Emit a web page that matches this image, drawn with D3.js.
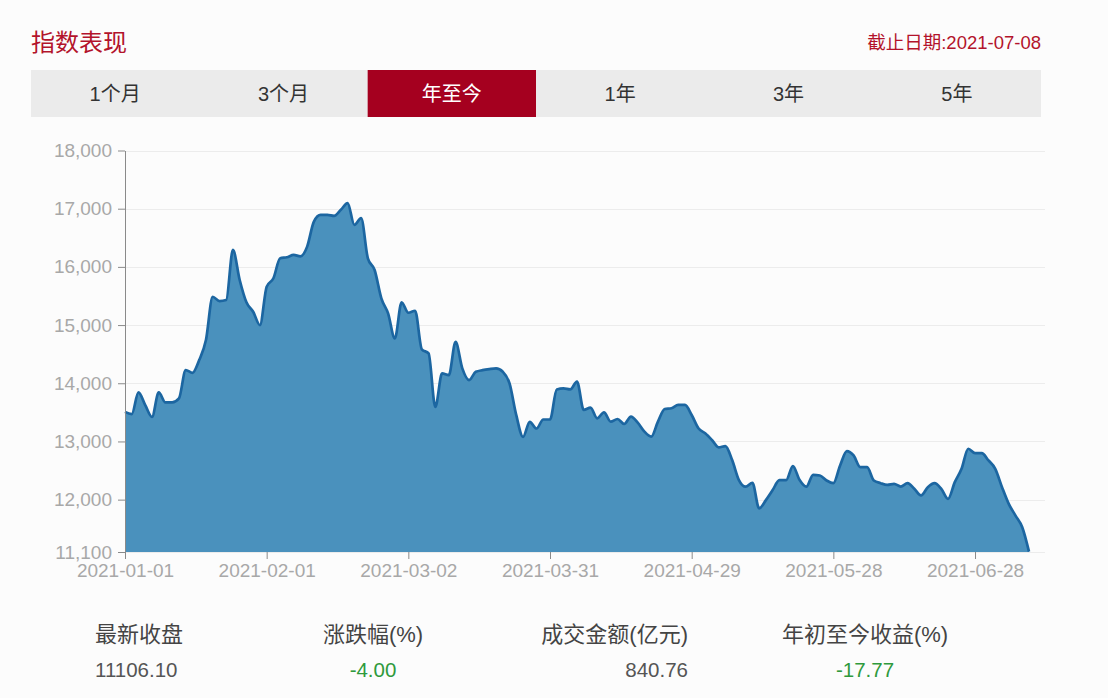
<!DOCTYPE html>
<html>
<head>
<meta charset="utf-8">
<script src="https://cdn.jsdelivr.net/npm/d3@7"></script>
<style>
    body { margin: 0; background: #fcfcfc; }
    svg { font-family: "Liberation Sans", "Noto Sans CJK SC", sans-serif; display: block; }
</style>
</head>
<body>
<div class="drawingArea"></div>
<script>
//Weekdays from 2021-01-01 to 2021-07-08 (category axis)
var dates = [
    "2021-01-01","2021-01-04","2021-01-05","2021-01-06","2021-01-07","2021-01-08","2021-01-11","2021-01-12","2021-01-13","2021-01-14",
    "2021-01-15","2021-01-18","2021-01-19","2021-01-20","2021-01-21","2021-01-22","2021-01-25","2021-01-26","2021-01-27","2021-01-28",
    "2021-01-29","2021-02-01","2021-02-02","2021-02-03","2021-02-04","2021-02-05","2021-02-08","2021-02-09","2021-02-10","2021-02-11",
    "2021-02-12","2021-02-15","2021-02-16","2021-02-17","2021-02-18","2021-02-19","2021-02-22","2021-02-23","2021-02-24","2021-02-25",
    "2021-02-26","2021-03-01","2021-03-02","2021-03-03","2021-03-04","2021-03-05","2021-03-08","2021-03-09","2021-03-10","2021-03-11",
    "2021-03-12","2021-03-15","2021-03-16","2021-03-17","2021-03-18","2021-03-19","2021-03-22","2021-03-23","2021-03-24","2021-03-25",
    "2021-03-26","2021-03-29","2021-03-30","2021-03-31","2021-04-01","2021-04-02","2021-04-05","2021-04-06","2021-04-07","2021-04-08",
    "2021-04-09","2021-04-12","2021-04-13","2021-04-14","2021-04-15","2021-04-16","2021-04-19","2021-04-20","2021-04-21","2021-04-22",
    "2021-04-23","2021-04-26","2021-04-27","2021-04-28","2021-04-29","2021-04-30","2021-05-03","2021-05-04","2021-05-05","2021-05-06",
    "2021-05-07","2021-05-10","2021-05-11","2021-05-12","2021-05-13","2021-05-14","2021-05-17","2021-05-18","2021-05-19","2021-05-20",
    "2021-05-21","2021-05-24","2021-05-25","2021-05-26","2021-05-27","2021-05-28","2021-05-31","2021-06-01","2021-06-02","2021-06-03",
    "2021-06-04","2021-06-07","2021-06-08","2021-06-09","2021-06-10","2021-06-11","2021-06-14","2021-06-15","2021-06-16","2021-06-17",
    "2021-06-18","2021-06-21","2021-06-22","2021-06-23","2021-06-24","2021-06-25","2021-06-28","2021-06-29","2021-06-30","2021-07-01",
    "2021-07-02","2021-07-05","2021-07-06","2021-07-07","2021-07-08"
];

//Index close
var closes = [
    13508, 13469, 13842, 13623, 13422, 13842, 13670, 13670, 13739, 14226,
    14179, 14398, 14742, 15487, 15413, 15430, 16291, 15775, 15391, 15229,
    15000, 15659, 15804, 16148, 16165, 16205, 16182, 16348, 16778, 16893,
    16893, 16876, 16980, 17095, 16721, 16837, 16148, 15947, 15460, 15202,
    14771, 15391, 15212, 15246, 14582, 14513, 13594, 14169, 14140, 14713,
    14255, 14054, 14197, 14225, 14243, 14255, 14197, 13997, 13451, 13078,
    13336, 13222, 13377, 13377, 13894, 13911, 13894, 14029, 13541, 13581,
    13398, 13501, 13340, 13386, 13300, 13426, 13323, 13168, 13082, 13340,
    13558, 13570, 13627, 13627, 13455, 13226, 13139, 13025, 12898, 12921,
    12680, 12336, 12222, 12290, 11849, 11992, 12164, 12336, 12336, 12577,
    12336, 12222, 12426, 12415, 12329, 12283, 12587, 12834, 12759, 12558,
    12558, 12329, 12283, 12254, 12271, 12225, 12283, 12185, 12071, 12214,
    12283, 12185, 12013, 12300, 12530, 12874, 12799, 12799, 12673, 12530,
    12214, 11927, 11726, 11526, 11106.10
];

var xTickLabels = ["2021-01-01", "2021-02-01", "2021-03-02", "2021-03-31", "2021-04-29", "2021-05-28", "2021-06-28"];
var yTickValues = [11100, 12000, 13000, 14000, 15000, 16000, 17000, 18000];

var tabLabels = ["1个月", "3个月", "年至今", "1年", "3年", "5年"];
var activeTab = "年至今";

var statLabels = ["最新收盘", "涨跌幅(%)", "成交金额(亿元)", "年初至今收益(%)"];
var statValues = ["11106.10", "-4.00", "840.76", "-17.77"];

var width = 1108;
var height = 698;

//Plot area
var plotLeft = 125, plotRight = 1029, plotTop = 150.5, plotBottom = 552;

var red = "#b3132b";
var tabRed = "#a5001f";
var fillBlue = "#4a91bd";
var lineBlue = "#1c66a1";
var axisGray = "#a8a8a8";

var svg = d3.select(".drawingArea").append("svg:svg")
    .attr("width", width)
    .attr("height", height);

svg.append("rect")
    .attr("width", width)
    .attr("height", height)
    .attr("fill", "#fcfcfc");

//Header
svg.append("text")
    .attr("x", 31)
    .attr("y", 51)
    .attr("font-size", 24)
    .attr("fill", red)
    .text("指数表现");

svg.append("text")
    .attr("x", 1041)
    .attr("y", 49)
    .attr("text-anchor", "end")
    .attr("font-size", 18.5)
    .attr("fill", red)
    .text("截止日期:2021-07-08");

//Tabs
var tabScale = d3.scaleBand().domain(tabLabels).range([31, 1041]);

svg.append("rect")
    .attr("x", 31)
    .attr("y", 70)
    .attr("width", 1010)
    .attr("height", 47)
    .attr("fill", "#ebebeb");

svg.selectAll("rect.tab")
    .data(tabLabels.filter(function (d) { return d === activeTab; }))
    .enter()
    .append("rect")
    .attr("class", "tab")
    .attr("x", function (d) { return tabScale(d); })
    .attr("y", 70)
    .attr("width", tabScale.bandwidth())
    .attr("height", 47)
    .attr("fill", tabRed);

svg.selectAll("text.tab")
    .data(tabLabels)
    .enter()
    .append("text")
    .attr("class", "tab")
    .attr("x", function (d) { return tabScale(d) + tabScale.bandwidth() / 2; })
    .attr("y", 101)
    .attr("text-anchor", "middle")
    .attr("font-size", 20)
    .attr("fill", function (d) { return d === activeTab ? "#ffffff" : "#333333"; })
    .text(function (d) { return d; });

//Scales
var x = d3.scalePoint().domain(dates).range([plotLeft, plotRight]);
var y = d3.scaleLinear().domain([11100, 18000]).range([plotBottom, plotTop]);

//Grid lines
svg.append("g")
    .selectAll("line")
    .data(yTickValues)
    .enter()
    .append("line")
    .attr("x1", plotLeft)
    .attr("x2", 1045)
    .attr("y1", function (d) { return Math.round(y(d)) + 0.5; })
    .attr("y2", function (d) { return Math.round(y(d)) + 0.5; })
    .attr("stroke", "#ececec");

//Area + line
var area = d3.area()
    .x(function (d, i) { return x(dates[i]); })
    .y0(plotBottom)
    .y1(function (d) { return y(d); })
    .curve(d3.curveMonotoneX);

var line = d3.line()
    .x(function (d, i) { return x(dates[i]); })
    .y(function (d) { return y(d); })
    .curve(d3.curveMonotoneX);

svg.append("path")
    .datum(closes)
    .attr("d", area)
    .attr("fill", fillBlue);

svg.append("path")
    .datum(closes)
    .attr("d", line)
    .attr("fill", "none")
    .attr("stroke", lineBlue)
    .attr("stroke-width", 2.7)
    .attr("stroke-linejoin", "round");

//Y axis
var yAxis = svg.append("g")
    .attr("transform", "translate(" + plotLeft + ",0)")
    .call(d3.axisLeft(y).tickValues(yTickValues).tickFormat(d3.format(",")).tickSize(7).tickSizeOuter(0).tickPadding(6));

yAxis.select(".domain").attr("stroke", "#8a8a8a");
yAxis.selectAll(".tick line").attr("stroke", "#8a8a8a");
yAxis.selectAll("text")
    .attr("fill", axisGray)
    .attr("font-size", 19)
    .attr("font-family", "Liberation Sans, sans-serif");

//X axis
var xAxis = svg.append("g")
    .attr("transform", "translate(0," + plotBottom + ")")
    .call(d3.axisBottom(x).tickValues(xTickLabels).tickSize(7).tickSizeOuter(0).tickPadding(5));

xAxis.select(".domain").remove();
xAxis.selectAll(".tick line").attr("stroke", "#8a8a8a");
xAxis.selectAll("text")
    .attr("fill", axisGray)
    .attr("font-size", 19)
    .attr("font-family", "Liberation Sans, sans-serif");

//Stats under the chart
var statX = [95, 373, 688, 865];
var statAnchor = ["start", "middle", "end", "middle"];
var statColor = ["#555555", "#2f9a3c", "#555555", "#2f9a3c"];

svg.selectAll("text.statLabel")
    .data(statLabels)
    .enter()
    .append("text")
    .attr("class", "statLabel")
    .attr("x", function (d, i) { return statX[i]; })
    .attr("y", 642)
    .attr("text-anchor", function (d, i) { return statAnchor[i]; })
    .attr("font-size", 22)
    .attr("fill", "#444444")
    .text(function (d) { return d; });

svg.selectAll("text.statValue")
    .data(statValues)
    .enter()
    .append("text")
    .attr("class", "statValue")
    .attr("x", function (d, i) { return statX[i]; })
    .attr("y", 677)
    .attr("text-anchor", function (d, i) { return statAnchor[i]; })
    .attr("font-size", 20.5)
    .attr("fill", function (d, i) { return statColor[i]; })
    .text(function (d) { return d; });
</script>
</body>
</html>
